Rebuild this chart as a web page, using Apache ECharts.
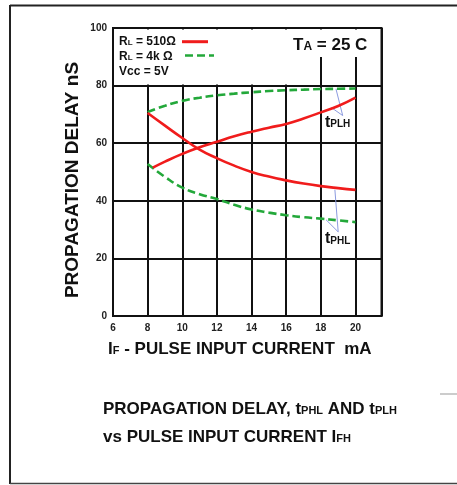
<!DOCTYPE html>
<html>
<head>
<meta charset="utf-8">
<script src="https://cdn.jsdelivr.net/npm/echarts@6/dist/echarts.min.js"></script>
<style>
  html, body { margin: 0; padding: 0; background: #fff; }
  #chart { width: 457px; height: 485px; }
</style>
</head>
<body>
<div id="chart"></div>
<script>
// IF (mA) 与传播延迟 (nS)
const ifPlh510 = [8.3, 9, 10, 11, 12, 13, 14, 15, 16, 17, 18, 19, 20]
const tplh510 = [51.5, 53.6, 56.3, 58.6, 60.5, 62.4, 64, 65.4, 66.7, 68.6, 70.7, 72.9, 75.8]
const ifAll = [8, 9, 10, 11, 12, 13, 14, 15, 16, 17, 18, 19, 20]
const tphl510 = [70.5, 66.1, 61.8, 57.8, 54.8, 52.2, 50, 48.4, 47.1, 46, 45.1, 44.4, 43.8]
const tplh4k = [70.8, 73, 74.7, 75.8, 76.6, 77.2, 77.7, 78.1, 78.4, 78.6, 78.8, 78.9, 79]
const tphl4k = [52.8, 48.3, 44.6, 42.3, 40.6, 38.6, 37, 35.9, 35, 34.3, 33.8, 33.2, 32.6]
// 标注引线 (数据坐标)
const plhPointer = [[18.87, 78.9], [19.26, 69.6], [18.6, 72.4]]
const phlPointer = [[18.81, 43.8], [19.0, 29.2], [18.3, 33.4]]
const xTicks = [6, 8, 10, 12, 14, 16, 18, 20]
const yTicks = [0, 20, 40, 60, 80, 100]

const FONT = '"Liberation Sans", Arial, sans-serif'
const INK = '#111'
const RED = '#f01c1c'
const GREEN = '#23a83a'

const pairs = (xs, ys) => xs.map((x, i) => [x, ys[i]])

// 下标样式
const rich = (big, small) => ({
  b: { fontSize: big, fontWeight: 'bold', fontFamily: FONT, fill: INK, verticalAlign: 'bottom' },
  s: { fontSize: small, fontWeight: 'bold', fontFamily: FONT, fill: INK, verticalAlign: 'bottom', padding: [0, 0, 1, 0] }
})

const txt = (x, y, text, big, small, extra) => Object.assign({
  type: 'text',
  x: x,
  y: y,
  z: 20,
  style: {
    text: text,
    fill: INK,
    align: 'left',
    verticalAlign: 'middle',
    rich: rich(big, small)
  }
}, extra || {})

const hline = (x1, y1, x2, y2, stroke, w, dash) => ({
  type: 'line',
  z: 20,
  shape: { x1: x1, y1: y1, x2: x2, y2: y2 },
  style: { stroke: stroke, lineWidth: w, lineDash: dash || null }
})

let option = {
  backgroundColor: '#fff',
  animation: false,
  grid: {
    left: 113,
    top: 28,
    right: 75.5,
    bottom: 169,
    show: true,
    borderColor: INK,
    borderWidth: 2
  },
  xAxis: {
    type: 'value',
    min: 6,
    max: 21.5,
    interval: 2,
    axisLine: { show: true, lineStyle: { color: INK, width: 2 } },
    axisTick: { show: false },
    splitLine: { show: true, lineStyle: { color: INK, width: 2 } },
    axisLabel: {
      margin: 7,
      fontSize: 10,
      fontWeight: 'bold',
      fontFamily: FONT,
      color: '#222',
      showMaxLabel: false,
      formatter: v => (xTicks.indexOf(v) > -1 ? String(v) : '')
    }
  },
  yAxis: {
    type: 'value',
    min: 0,
    max: 100,
    interval: 20,
    axisLine: { show: true, lineStyle: { color: INK, width: 2 } },
    axisTick: { show: false },
    splitLine: { show: true, lineStyle: { color: INK, width: 2 } },
    axisLabel: {
      margin: 6,
      fontSize: 10,
      fontWeight: 'bold',
      fontFamily: FONT,
      color: '#222',
      formatter: v => (yTicks.indexOf(v) > -1 ? String(v) : '')
    }
  },
  series: [
    {
      name: 'tPLH 510',
      type: 'line',
      smooth: true,
      showSymbol: false,
      z: 4,
      lineStyle: { color: RED, width: 2.6 },
      data: pairs(ifPlh510, tplh510)
    },
    {
      name: 'tPHL 510',
      type: 'line',
      smooth: true,
      showSymbol: false,
      z: 4,
      lineStyle: { color: RED, width: 2.6 },
      data: pairs(ifAll, tphl510)
    },
    {
      name: 'tPLH 4k',
      type: 'line',
      smooth: true,
      showSymbol: false,
      z: 3,
      lineStyle: { color: GREEN, width: 2.6, type: [8, 4] },
      data: pairs(ifAll, tplh4k)
    },
    {
      name: 'tPHL 4k',
      type: 'line',
      smooth: true,
      showSymbol: false,
      z: 3,
      lineStyle: { color: GREEN, width: 2.6, type: [8, 4] },
      data: pairs(ifAll, tphl4k)
    },
    {
      name: 'plh pointer',
      type: 'line',
      showSymbol: false,
      z: 2,
      lineStyle: { color: '#8c9be0', width: 1 },
      data: plhPointer
    },
    {
      name: 'phl pointer',
      type: 'line',
      showSymbol: false,
      z: 2,
      lineStyle: { color: '#8c9be0', width: 1 },
      data: phlPointer
    }
  ],
  graphic: [
    // 外框
    hline(10, 5.5, 457, 5.5, '#222', 2),
    hline(10, 5, 10, 484, '#222', 2),
    hline(10, 483.5, 457, 483.5, '#444', 1.5),
    hline(440, 394, 457, 394, '#999', 1),
    // 图例区域遮挡网格
    { type: 'rect', z: 10, shape: { x: 114.5, y: 29.5, width: 186, height: 55 }, style: { fill: '#fff' } },
    { type: 'rect', z: 10, shape: { x: 300, y: 29.5, width: 80, height: 27.5 }, style: { fill: '#fff' } },
    txt(119, 42, '{b|R}{s|L}{b| = 510Ω}', 12, 8),
    hline(182, 41.7, 208, 41.7, RED, 3),
    txt(119, 56.5, '{b|R}{s|L}{b| = 4k Ω}', 12, 8),
    hline(185, 55.5, 214, 55.5, GREEN, 2.6, [8, 4]),
    txt(119, 71.5, '{b|Vcc = 5V}', 12, 8),
    txt(293, 45, '{b|T}{s|A}{b| = 25 C}', 17, 12),
    // 曲线标注
    txt(325, 122.5, '{b|t}{s|PLH}', 16, 10),
    txt(325, 239, '{b|t}{s|PHL}', 16, 10),
    // 轴标题
    {
      type: 'text',
      z: 20,
      x: 73,
      y: 180,
      rotation: Math.PI / 2,
      style: {
        text: 'PROPAGATION DELAY nS',
        fontSize: 19,
        fontWeight: 'bold',
        fontFamily: FONT,
        fill: INK,
        align: 'center',
        verticalAlign: 'middle'
      }
    },
    txt(108, 349, '{b|I}{s|F}{b| - PULSE INPUT CURRENT  mA}', 17, 11),
    // 图题
    txt(103, 409, '{b|PROPAGATION DELAY, t}{s|PHL}{b| AND t}{s|PLH}', 17, 11),
    txt(103, 437, '{b|vs PULSE INPUT CURRENT I}{s|FH}', 17, 11)
  ]
}

let myChart = echarts.init(document.getElementById('chart'))
myChart.setOption(option)
</script>
</body>
</html>
